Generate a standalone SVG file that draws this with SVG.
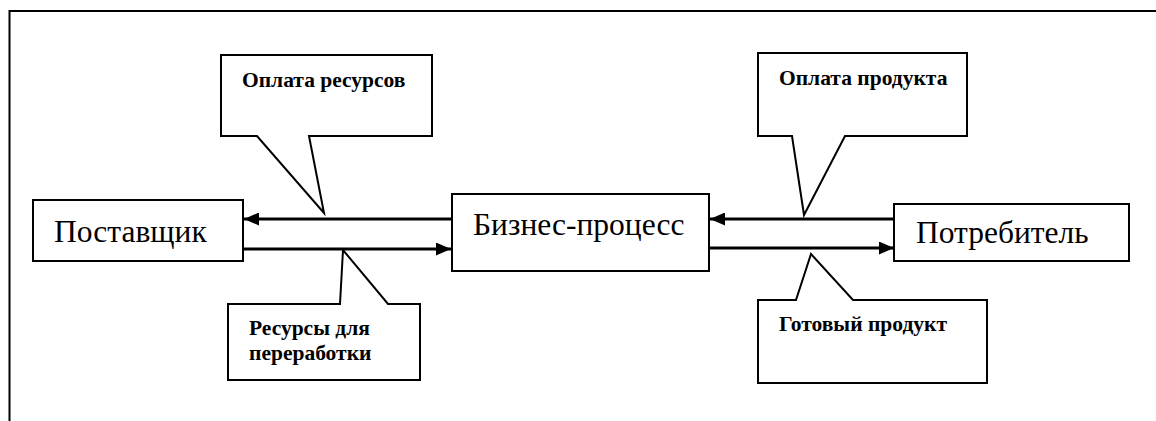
<svg xmlns="http://www.w3.org/2000/svg" width="1156" height="421" viewBox="0 0 1156 421">
  <style>
    .frame { fill: none; stroke: #000; stroke-width: 2; }
    .box { fill: #fff; stroke: #000; stroke-width: 2; }
    .callout { fill: #fff; stroke: #000; stroke-width: 2; stroke-linejoin: miter; }
    .flow { fill: none; stroke: #000; stroke-width: 3; }
    .big { font-family: "Liberation Serif", "Times New Roman", serif; font-size: 31.5px; fill: #000; }
    .note { font-family: "Liberation Serif", "Times New Roman", serif; font-size: 21.5px; font-weight: bold; fill: #000; }
  </style>
  <defs>
    <marker id="head" markerUnits="userSpaceOnUse" markerWidth="15" markerHeight="13" refX="15" refY="6.5" orient="auto">
      <path d="M0,0 L15,6.5 L0,13 Z" fill="#000"/>
    </marker>
  </defs>

  <rect width="1156" height="421" fill="#fff"/>

  <!-- page frame: top and left edges -->
  <path class="frame" d="M9.5,421 V11 H1156"/>

  <!-- flows between participants -->
  <g id="connectors">
    <line class="flow" x1="451" y1="219" x2="244" y2="219" marker-end="url(#head)"/>
    <line class="flow" x1="241" y1="249" x2="451" y2="249" marker-end="url(#head)"/>
    <line class="flow" x1="896" y1="219" x2="710" y2="219" marker-end="url(#head)"/>
    <line class="flow" x1="709" y1="248" x2="894" y2="248" marker-end="url(#head)"/>
  </g>

  <g id="supplier">
    <rect class="box" x="33" y="200" width="210" height="61"/>
    <text class="big" x="54" y="242">Поставщик</text>
  </g>

  <g id="process">
    <rect class="box" x="452" y="194" width="257" height="77"/>
    <text class="big" x="473" y="235">Бизнес-процесс</text>
  </g>

  <g id="consumer">
    <rect class="box" x="894" y="204" width="235" height="57"/>
    <text class="big" x="916" y="243">Потребитель</text>
  </g>

  <g id="note-pay-resources">
    <path class="callout" d="M221,55 H432 V136 H309 L324,213 L257,136 H221 Z"/>
    <text class="note" x="242" y="87">Оплата ресурсов</text>
  </g>

  <g id="note-resources">
    <path class="callout" d="M228,304 H340 L343,250 L388,304 H420 V380 H228 Z"/>
    <text class="note" x="249" y="335">Ресурсы для</text>
    <text class="note" x="249" y="360">переработки</text>
  </g>

  <g id="note-pay-product">
    <path class="callout" d="M758,53 H967 V136 H845 L804,215 L792,136 H758 Z"/>
    <text class="note" x="779" y="85">Оплата продукта</text>
  </g>

  <g id="note-product">
    <path class="callout" d="M758,300 H796 L811,254 L853,300 H987 V383 H758 Z"/>
    <text class="note" x="779" y="331">Готовый продукт</text>
  </g>
</svg>
